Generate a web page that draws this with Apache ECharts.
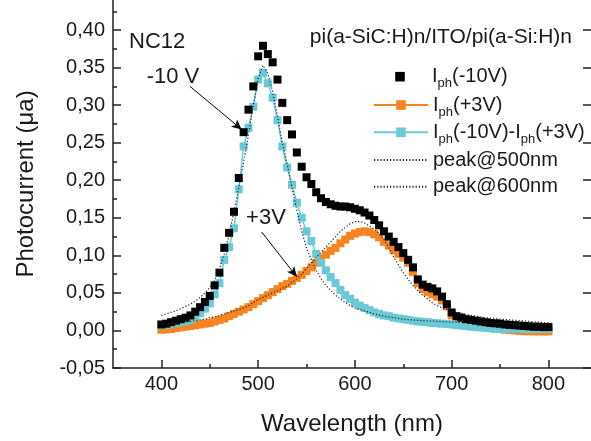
<!DOCTYPE html>
<html>
<head>
<meta charset="utf-8">
<script src="https://cdn.jsdelivr.net/npm/echarts@6/dist/echarts.min.js"></script>
<style>
html,body{margin:0;padding:0;background:#fff;}
#chart{width:591px;height:441px;}
</style>
</head>
<body>
<div id="chart"></div>
<script>
// ---- data ----
const wavelength = [400,405,410,415,420,425,430,435,440,445,450,455,460,465,470,475,480,485,490,495,500,505,510,515,520,525,530,535,540,545,550,555,560,565,570,575,580,585,590,595,600,605,610,615,620,625,630,635,640,645,650,655,660,665,670,675,680,685,690,695,700,705,710,715,720,725,730,735,740,745,750,755,760,765,770,775,780,785,790,795,800];
const iphMinus10 = [0.008,0.009,0.011,0.013,0.015,0.017,0.020,0.025,0.031,0.038,0.046,0.060,0.077,0.110,0.130,0.158,0.203,0.264,0.294,0.325,0.365,0.379,0.368,0.357,0.334,0.303,0.280,0.261,0.237,0.218,0.204,0.195,0.184,0.176,0.171,0.168,0.166,0.165,0.165,0.164,0.162,0.160,0.157,0.153,0.147,0.140,0.132,0.125,0.118,0.111,0.103,0.094,0.084,0.068,0.061,0.058,0.056,0.052,0.045,0.035,0.024,0.019,0.017,0.015,0.014,0.013,0.012,0.011,0.010,0.0095,0.009,0.008,0.0075,0.007,0.0065,0.006,0.0055,0.005,0.005,0.0045,0.0045];
const iphPlus3 = [0.001,0.0015,0.002,0.003,0.004,0.005,0.006,0.007,0.008,0.009,0.010,0.012,0.014,0.016,0.019,0.022,0.025,0.028,0.031,0.035,0.039,0.043,0.047,0.051,0.055,0.059,0.062,0.066,0.070,0.074,0.079,0.084,0.090,0.096,0.101,0.106,0.110,0.116,0.121,0.126,0.129,0.131,0.132,0.131,0.128,0.124,0.118,0.113,0.107,0.102,0.097,0.090,0.078,0.063,0.055,0.051,0.048,0.045,0.040,0.032,0.020,0.015,0.012,0.010,0.008,0.007,0.006,0.005,0.004,0.003,0.002,0.001,0.0005,0.000,-0.0005,-0.001,-0.001,-0.0012,-0.0012,-0.0013,-0.0013];
const iphDiff = [0.007,0.0075,0.009,0.010,0.011,0.012,0.014,0.018,0.023,0.029,0.036,0.048,0.063,0.094,0.111,0.136,0.188,0.245,0.270,0.298,0.334,0.343,0.329,0.310,0.280,0.245,0.217,0.194,0.170,0.150,0.132,0.119,0.102,0.090,0.080,0.071,0.063,0.054,0.047,0.042,0.037,0.033,0.030,0.027,0.024,0.022,0.020,0.019,0.017,0.016,0.015,0.014,0.013,0.012,0.0115,0.011,0.010,0.0095,0.009,0.0085,0.008,0.007,0.0065,0.006,0.005,0.0045,0.004,0.0035,0.003,0.002,0.002,0.002,0.002,0.002,0.002,0.002,0.002,0.002,0.002,0.002,0.002];
const peak500 = [0.020,0.022,0.024,0.026,0.029,0.032,0.035,0.039,0.044,0.050,0.057,0.067,0.082,0.102,0.127,0.158,0.190,0.224,0.260,0.300,0.336,0.353,0.342,0.318,0.285,0.250,0.222,0.190,0.160,0.132,0.110,0.094,0.080,0.069,0.060,0.053,0.047,0.042,0.037,0.033,0.030,0.028,0.026,0.024,0.022,0.0205,0.019,0.018,0.017,0.016,0.015,0.0145,0.014,0.0135,0.013,0.0127,0.0124,0.0121,0.0118,0.0115,0.0112,0.011,0.0108,0.0106,0.0104,0.0102,0.010,0.0098,0.0096,0.0094,0.0092,0.009,0.0089,0.0088,0.0087,0.0086,0.0085,0.0084,0.0083,0.0082,0.0081];
const peak600 = [0.008,0.0085,0.009,0.0095,0.010,0.011,0.012,0.013,0.014,0.015,0.017,0.018,0.020,0.022,0.024,0.026,0.028,0.030,0.033,0.037,0.041,0.044,0.047,0.050,0.053,0.056,0.059,0.064,0.069,0.075,0.083,0.090,0.097,0.104,0.111,0.118,0.125,0.132,0.137,0.142,0.145,0.145,0.143,0.139,0.135,0.129,0.121,0.110,0.098,0.087,0.077,0.068,0.060,0.053,0.047,0.042,0.037,0.033,0.030,0.028,0.026,0.024,0.023,0.021,0.020,0.019,0.018,0.017,0.0165,0.016,0.015,0.0145,0.014,0.0135,0.013,0.0125,0.012,0.0115,0.011,0.0105,0.010];

const xMajorTicks = [400,500,600,700,800];
const xMinorTicks = [450,550,650,750];
const yMajorTicks = [-0.05,0,0.05,0.10,0.15,0.20,0.25,0.30,0.35,0.40];
const yMinorTicks = [-0.025,0.025,0.075,0.125,0.175,0.225,0.275,0.325,0.375,0.425];

const seriesNames = ['Iph(-10V)','Iph(+3V)','Iph(-10V)-Iph(+3V)','peak@500nm','peak@600nm'];
const legendRich = {
  'Iph(-10V)': '{t|I}{s|ph}{t|(-10V)}',
  'Iph(+3V)': '{t|I}{s|ph}{t|(+3V)}',
  'Iph(-10V)-Iph(+3V)': '{t|I}{s|ph}{t|(-10V)-I}{s|ph}{t|(+3V)}',
  'peak@500nm': '{t|peak@500nm}',
  'peak@600nm': '{t|peak@600nm}'
};
// annotation arrows, in data coordinates [from, to]
const arrows = [
  [[429.6, 0.325], [483.0, 0.2676]],
  [[503.7, 0.131], [539.9, 0.0714]]
];

// ---- chart ----
const FONT = '"Liberation Sans", Arial, Helvetica, sans-serif';
const TXT = '#1a1a1a';
const AX = '#222';
const pair = (ys) => wavelength.map((x, i) => [x, ys[i]]);
const fmtY = (v) => (Math.round(v * 100) / 100).toFixed(2).replace('.', ',');

const chart = echarts.init(document.getElementById('chart'), null, {renderer: 'canvas'});

const legendRows = [66.7, 95, 122.3, 150, 176.7];
const legends = seriesNames.map((n, i) => ({
  data: [n],
  left: 373, top: legendRows[i], padding: 0,
  orient: 'vertical', itemWidth: 54, itemHeight: 12,
  selectedMode: false,
  itemStyle: i >= 3 ? {opacity: 0} : {},
  formatter: (name) => legendRich[name],
  textStyle: {
    color: TXT, fontFamily: FONT, fontSize: 20,
    rich: {
      t: {fontSize: 20, fontFamily: FONT, color: TXT},
      s: {fontSize: 13, fontFamily: FONT, color: TXT, padding: [14, 0, 0, 0]}
    }
  }
}));

const tickStyle = {color: AX, width: 1.5};
const option = {
  animation: false,
  backgroundColor: '#fff',
  grid: {left: 113, right: 0, top: 0, bottom: 71, containLabel: false},
  legend: legends,
  xAxis: [
    {
      type: 'value', min: 350, max: 844, position: 'bottom',
      axisLine: {show: true, onZero: false, lineStyle: {color: AX, width: 1.5}},
      axisTick: {show: true, inside: true, length: 8, customValues: xMajorTicks, lineStyle: tickStyle},
      axisLabel: {show: true, customValues: xMajorTicks, fontSize: 20, fontFamily: FONT, color: TXT, margin: 6},
      splitLine: {show: false},
      name: 'Wavelength (nm)', nameLocation: 'middle', nameGap: 44,
      nameTextStyle: {fontSize: 24, fontFamily: FONT, color: TXT}
    },
    {
      type: 'value', min: 350, max: 844, position: 'bottom',
      axisLine: {show: false, onZero: false},
      axisTick: {show: true, inside: true, length: 4, customValues: xMinorTicks, lineStyle: tickStyle},
      axisLabel: {show: false}, splitLine: {show: false}
    }
  ],
  yAxis: [
    {
      type: 'value', min: -0.05, max: 0.44, position: 'left',
      axisLine: {show: true, onZero: false, lineStyle: {color: AX, width: 1.5}},
      axisTick: {show: true, inside: true, length: 8, customValues: yMajorTicks, lineStyle: tickStyle},
      axisLabel: {show: true, customValues: yMajorTicks, formatter: fmtY, fontSize: 20, fontFamily: FONT, color: TXT, margin: 8},
      splitLine: {show: false},
      name: 'Photocurrent (μa)', nameLocation: 'middle', nameGap: 75,
      nameTextStyle: {fontSize: 24, fontFamily: FONT, color: TXT}
    },
    {
      type: 'value', min: -0.05, max: 0.44, position: 'left',
      axisLine: {show: false, onZero: false},
      axisTick: {show: true, inside: true, length: 4, customValues: yMinorTicks, lineStyle: tickStyle},
      axisLabel: {show: false}, splitLine: {show: false}
    },
    {
      type: 'value', min: -0.05, max: 0.44, position: 'right',
      axisLine: {show: false, onZero: false},
      axisTick: {show: true, inside: true, length: 8, customValues: yMajorTicks, lineStyle: tickStyle},
      axisLabel: {show: false}, splitLine: {show: false}
    }
  ],
  series: [
    {
      name: seriesNames[1], type: 'line', data: pair(iphPlus3), z: 2,
      symbol: 'rect', symbolSize: 8, showAllSymbol: true,
      itemStyle: {color: '#f7841f'}, lineStyle: {color: '#f7841f', width: 1.5}
    },
    {
      name: seriesNames[2], type: 'line', data: pair(iphDiff), z: 3,
      symbol: 'rect', symbolSize: 8, showAllSymbol: true,
      itemStyle: {color: '#69c9d7'}, lineStyle: {color: '#69c9d7', width: 1.5}
    },
    {
      name: seriesNames[0], type: 'line', data: pair(iphMinus10), z: 4,
      symbol: 'rect', symbolSize: 8, showAllSymbol: true,
      itemStyle: {color: '#000'}, lineStyle: {color: '#000', width: 0, opacity: 0},
      markLine: {
        silent: true, animation: false,
        symbol: ['none', 'arrow'], symbolSize: [7, 10],
        lineStyle: {color: '#000', width: 1, type: 'solid', opacity: 1},
        label: {show: false},
        data: arrows.map(a => [{coord: a[0]}, {coord: a[1]}])
      }
    },
    {
      name: seriesNames[3], type: 'line', data: pair(peak500), z: 5,
      symbol: 'none', smooth: false,
      itemStyle: {color: AX}, lineStyle: {color: AX, width: 1.2, type: [1.2, 2]}
    },
    {
      name: seriesNames[4], type: 'line', data: pair(peak600), z: 5,
      symbol: 'none', smooth: false,
      itemStyle: {color: AX}, lineStyle: {color: AX, width: 1.2, type: [1.2, 2]}
    }
  ],
  graphic: [
    {type: 'text', x: 129, y: 41.5, style: {text: 'NC12', font: '22px ' + FONT, fill: TXT, textAlign: 'left', textVerticalAlign: 'middle'}},
    {type: 'text', x: 572, y: 37, style: {text: 'pi(a-SiC:H)n/ITO/pi(a-Si:H)n', font: '21px ' + FONT, fill: TXT, textAlign: 'right', textVerticalAlign: 'middle'}},
    {type: 'text', x: 173, y: 77, style: {text: '-10 V', font: '22px ' + FONT, fill: TXT, textAlign: 'center', textVerticalAlign: 'middle'}},
    {type: 'text', x: 266, y: 217.5, style: {text: '+3V', font: '22px ' + FONT, fill: TXT, textAlign: 'center', textVerticalAlign: 'middle'}}
  ]
};
chart.setOption(option);
</script>
</body>
</html>
